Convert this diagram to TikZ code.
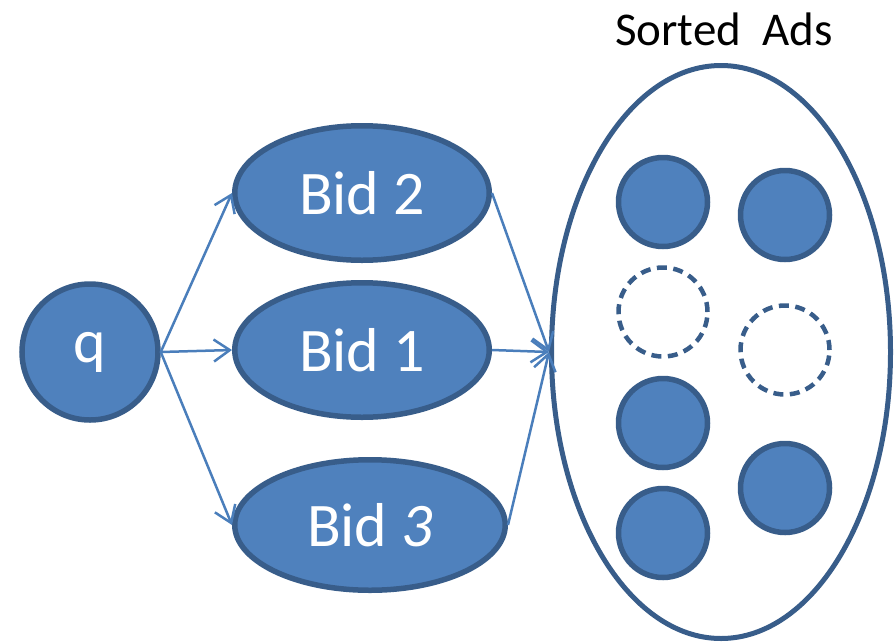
\documentclass[tikz,border=0pt]{standalone}
\usepackage{fontspec}
\setmainfont{Carlito}
\usetikzlibrary{shapes.geometric,arrows.meta}
\definecolor{fillblue}{HTML}{4F81BD}
\definecolor{edgeblue}{HTML}{385D8A}
\definecolor{arrowblue}{HTML}{4A7EBB}
\tikzset{
  bidnode/.style={ellipse, draw=edgeblue, fill=fillblue, line width=5.5pt, inner sep=0pt,
    text=white, font=\fontsize{62}{62}\selectfont},
  adfull/.style={circle, draw=edgeblue, fill=fillblue, line width=5.5pt, inner sep=0pt, minimum size=89pt},
  adempty/.style={circle, draw=edgeblue, line width=4.5pt, dash pattern=on 10pt off 6.5pt, inner sep=0pt, minimum size=89pt},
  conn/.style={draw=arrowblue, line width=2.5pt, -{Straight Barb[length=16pt,width=22pt,line width=2.5pt]}},
}
\begin{document}
\begin{tikzpicture}[x=1pt,y=-1pt]
\useasboundingbox (0,0) rectangle (894,643);
\node[bidnode, circle, minimum size=136pt] (q) at (90,352) {q};
\node[bidnode, minimum width=254.5pt, minimum height=134.5pt] (b2) at (362,193) {Bid 2};
\node[bidnode, minimum width=254.5pt, minimum height=134.5pt] (b1) at (362,350) {Bid 1};
\node[bidnode, minimum width=270.5pt, minimum height=130.5pt] (b3) at (370,525) {Bid \textit{3}};
\node[ellipse, draw=edgeblue, line width=5pt, minimum width=339pt, minimum height=573pt, inner sep=0pt] (big) at (721,352) {};
\node[font=\fontsize{47}{47}\selectfont, anchor=base] (title) at (724,45) {Sorted\ \ Ads};
\node[adfull] (a1) at (663,202) {};
\node[adfull] (a2) at (785,215) {};
\node[adempty] (a3) at (663,312) {};
\node[adempty] (a4) at (785,350) {};
\node[adfull] (a5) at (663,423) {};
\node[adfull] (a6) at (785,488) {};
\node[adfull] (a7) at (663,533) {};
\draw[conn] (q.east) -- (b2.west);
\draw[conn] (q.east) -- (b1.west);
\draw[conn] (q.east) -- (b3.west);
\draw[conn] (b2.east) -- (big.west);
\draw[conn] (b1.east) -- (big.west);
\draw[conn] (b3.east) -- (big.west);
\end{tikzpicture}
\end{document}
